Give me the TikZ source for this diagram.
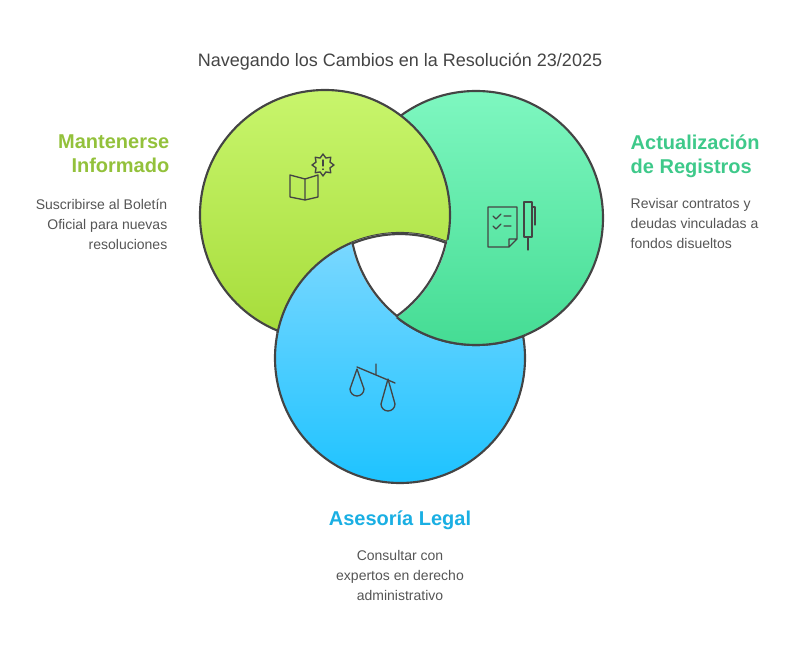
\documentclass[tikz,border=0pt]{standalone}
\usepackage{fontspec}
\setmainfont{Liberation Sans}
\definecolor{lime}{HTML}{93C13B}
\definecolor{mint}{HTML}{3EC98A}
\definecolor{sky}{HTML}{1AAFE3}
\definecolor{ink}{HTML}{444444}
\definecolor{txt}{HTML}{555555}
\tikzset{
  ring/.style={draw=ink, line width=1.6pt},
  heading/.style={font=\fontsize{15}{18}\selectfont\bfseries, align=#1},
  desc/.style={font=\fontsize{10.5}{15}\selectfont, text=txt, align=#1},
  icon/.style={draw=ink, line width=1pt, line join=round, line cap=round}
}
\begin{document}
\begin{tikzpicture}[x=0.75pt, y=0.75pt]
\useasboundingbox (0,0) rectangle (800,657);
% circles
\shade[top color={rgb,255:red,125;green,216;blue,255}, bottom color={rgb,255:red,30;green,195;blue,255}] (400,299) circle (125);
\draw[ring] (400,299) circle (125);
\shade[top color={rgb,255:red,126;green,247;blue,192}, bottom color={rgb,255:red,69;green,220;blue,148}] (476,439) circle (127);
\draw[ring] (476,439) circle (127);
\shade[top color={rgb,255:red,200;green,245;blue,108}, bottom color={rgb,255:red,166;green,220;blue,58}] (325,442) circle (125);
\draw[ring] (325,442) circle (125);
% blue over green
\begin{scope}
  \clip (325,442) circle (127.5);
  \shade[top color={rgb,255:red,125;green,216;blue,255}, bottom color={rgb,255:red,30;green,195;blue,255}] (400,299) circle (125);
  \draw[ring] (400,299) circle (125);
\end{scope}
% teal over blue, outside green
\begin{scope}[even odd rule]
  \clip (400,299) circle (127.5);
  \clip (0,0) rectangle (800,657) (325,442) circle (125);
  \shade[top color={rgb,255:red,126;green,247;blue,192}, bottom color={rgb,255:red,69;green,220;blue,148}] (476,439) circle (127);
  \draw[ring] (476,439) circle (127);
\end{scope}
% white centre
\begin{scope}
  \clip (325,442) circle (125);
  \clip (476,439) circle (127);
  \clip (400,299) circle (125);
  \fill[white] (300,200) rectangle (560,560);
  \draw[ring, line width=3.2pt] (325,442) circle (125);
  \draw[ring, line width=3.2pt] (476,439) circle (127);
  \draw[ring, line width=3.2pt] (400,299) circle (125);
\end{scope}
% icons
\draw[icon] (305,478) -- (290,482) -- (290,460) -- (305,457) -- (318,460) -- (318,482) -- cycle (305,478) -- (305,457);
\draw[icon] (323,503)
  \foreach \a in {22.5,45,...,360} {-- ({323+(mod(\a,45)==0 ? 11 : 7.5)*cos(\a+90)},{492+(mod(\a,45)==0 ? 11 : 7.5)*sin(\a+90)})} -- cycle;
\draw[icon] (323,497) -- (323,491) (323,488) -- (323,487.5);
\draw[icon] (488,450) -- (517,450) -- (517,418) -- (509,410) -- (488,410) -- cycle (509,410) -- (509,418) -- (517,418);
\draw[icon] (493,441) -- (496,438) -- (501,443) (504,441) -- (511,441)
            (493,431) -- (496,428) -- (501,433) (504,431) -- (511,431);
\draw[icon] (524,455) -- (532,455) -- (532,420) -- (524,420) -- cycle (528,420) -- (528,407) (532,450) -- (535,450) -- (535,432);
\draw[icon] (357,290) -- (395,274) (376,293) -- (376,283);
\draw[icon] (357,288) -- (350,268) arc (180:360:7) -- cycle;
\draw[icon] (388,278) -- (381,253) arc (180:360:7) -- cycle;
% texts
\node[font=\fontsize{13.5}{16}\selectfont, text=ink] (title) at (400,595) {Navegando los Cambios en la Resolución 23/2025};
\node[heading=right, text=lime, anchor=north east] (informado) at (174,527) {Mantenerse\\Informado};
\node[desc=right, anchor=north east] (boletin) at (172,463) {Suscribirse al Boletín\\Oficial para nuevas\\resoluciones};
\node[heading=left, text=mint, anchor=north west] (registros) at (626,527) {Actualización\\de Registros};
\node[desc=left, anchor=north west] (contratos) at (626,463) {Revisar contratos y\\deudas vinculadas a\\fondos disueltos};
\node[heading=center, text=sky] (legal) at (400,137) {Asesoría Legal};
\node[desc=center, anchor=north] (expertos) at (400,111) {Consultar con\\expertos en derecho\\administrativo};
\end{tikzpicture}
\end{document}
